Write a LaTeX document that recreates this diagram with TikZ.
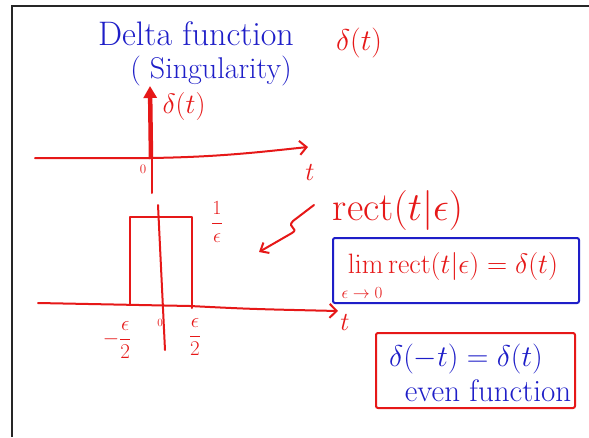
\RequirePackage{fix-cm}
\documentclass[tikz,border=0pt]{standalone}
\usetikzlibrary{arrows.meta}
\definecolor{pen}{RGB}{230,24,24}
\definecolor{ink}{RGB}{30,30,200}
\tikzset{
  redline/.style={draw=pen, line width=2pt, line cap=round, line join=round},
  bluetxt/.style={text=ink, inner sep=0pt},
  redtxt/.style={text=pen, inner sep=0pt},
  axarrow/.style={redline, -{Straight Barb[length=7pt,width=14pt,line width=2pt]}},
  framebox/.style={line width=2pt, rounded corners=2pt},
}
\begin{document}
\begin{tikzpicture}[x=1pt,y=-1pt]
\useasboundingbox (0,0) rectangle (589,437);
\fill[white] (0,0) rectangle (589,437);
% frame
\coordinate (fbl) at (12,437);
\coordinate (ftl) at (12,6);
\coordinate (ftr) at (589,6);
\draw[line width=1.5pt, black!85] (fbl) -- (ftl) -- (ftr);

% titles
\node[bluetxt] (title1) at (196,34) {\fontsize{34}{36}\selectfont Delta function};
\node[bluetxt] (title2) at (211,71) {\fontsize{30}{32}\selectfont ( Singularity)};
\node[redtxt] (dtop) at (359,43) {\fontsize{30}{32}\selectfont $\delta(t)$};

% top plot
\coordinate (a1s) at (35,158);
\coordinate (a1m) at (150,158);
\coordinate (a1e) at (308,147);
\draw[axarrow] (a1s) -- (a1m) .. controls (220,157) and (260,152) .. (a1e);
\coordinate (v1t) at (152,150);
\coordinate (v1b) at (152,193);
\draw[redline] (v1t) -- (v1b);
\coordinate (imp0) at (151,159);
\coordinate (imp1) at (150,86);
\draw[pen, line width=4.5pt, -{Triangle[length=12pt,width=13pt]}] (imp0) -- (imp1);
\node[redtxt] (dlab) at (184,106) {\fontsize{28}{30}\selectfont $\delta(t)$};
\node[redtxt] (t1) at (310,172) {\fontsize{26}{28}\selectfont $t$};
\node[redtxt] (z1) at (143,169) {\fontsize{13}{15}\selectfont $0$};

% bottom plot
\coordinate (v2t) at (158,205);
\coordinate (v2b) at (165,350);
\draw[redline] (v2t) -- (v2b);
\coordinate (r1) at (130,305);
\coordinate (r2) at (130,217);
\coordinate (r3) at (192,217);
\coordinate (r4) at (192,308);
\draw[redline] (r1) -- (r2) -- (r3) -- (r4);
\coordinate (a2s) at (38,303);
\coordinate (a2m) at (190,306);
\coordinate (a2e) at (338,311);
\draw[axarrow] (a2s) -- (a2m) .. controls (250,309) .. (a2e);
\node[redtxt] (t2) at (345,322) {\fontsize{26}{28}\selectfont $t$};
\node[redtxt] (inv) at (217,222) {\fontsize{20}{22}\selectfont $\displaystyle\frac{1}{\epsilon}$};
\node[redtxt] (mhalf) at (117,340) {\fontsize{21}{23}\selectfont $\displaystyle-\frac{\epsilon}{2}$};
\node[redtxt] (z2) at (160,323) {\fontsize{11}{13}\selectfont $0$};
\node[redtxt] (phalf) at (195,337) {\fontsize{21}{23}\selectfont $\displaystyle\frac{\epsilon}{2}$};

% rect label and squiggle arrow
\node[redtxt] (rect) at (398,210) {\fontsize{40}{42}\selectfont rect$(t|\epsilon)$};
\coordinate (sq0) at (314,205);
\coordinate (sq1) at (293,221);
\coordinate (sq2) at (292,233);
\coordinate (sq3) at (259,252);
\draw[redline, -{Straight Barb[length=7pt,width=12pt,line width=2pt]}]
  (sq0) -- (sq1) .. controls (286,228) and (300,228) .. (sq2) -- (sq3);

% blue box with limit
\coordinate (lb1) at (333,238);
\coordinate (lb2) at (579,303);
\draw[draw=ink, framebox] (lb1) rectangle (lb2);
\node[redtxt] (lim) at (453,266) {\fontsize{28}{30}\selectfont $\mathrm{lim}\,\mathrm{rect}(t|\epsilon)=\delta(t)$};
\node[redtxt] (limsub) at (362,293) {\fontsize{17}{19}\selectfont $\epsilon\to0$};

% red box with even function
\coordinate (eb1) at (376,333);
\coordinate (eb2) at (575,408);
\draw[draw=pen, framebox] (eb1) rectangle (eb2);
\node[bluetxt] (even1) at (466,359) {\fontsize{30}{32}\selectfont $\delta(-t)=\delta(t)$};
\node[bluetxt] (even2) at (488,391) {\fontsize{31}{33}\selectfont even function};
\end{tikzpicture}
\end{document}
